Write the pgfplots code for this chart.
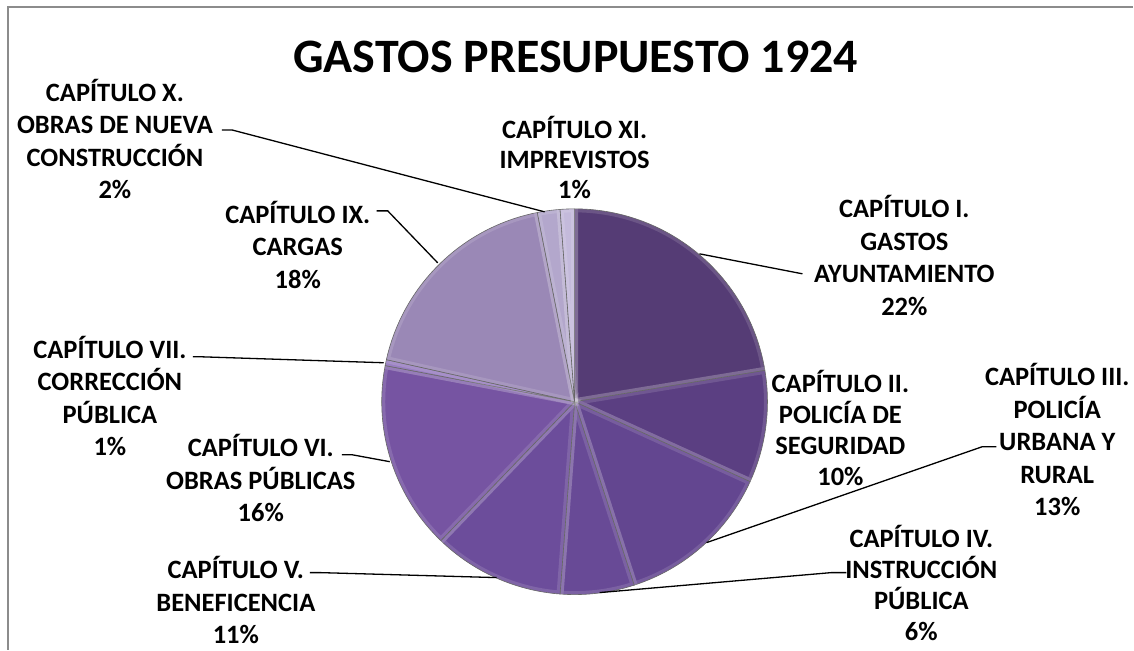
\documentclass[border=0pt]{standalone}
\usepackage{pgfplots}
\pgfplotsset{compat=1.18}
\usepackage{fontspec}
\setmainfont{Carlito}
\definecolor{cI}{HTML}{553C75}
\definecolor{cII}{HTML}{5B3F82}
\definecolor{cIII}{HTML}{634690}
\definecolor{cIV}{HTML}{684A96}
\definecolor{cV}{HTML}{6C4D9B}
\definecolor{cVI}{HTML}{7654A2}
\definecolor{cVII}{HTML}{8A6CB8}
\definecolor{cIX}{HTML}{9A88B6}
\definecolor{cX}{HTML}{B3A7CC}
\definecolor{cXI}{HTML}{C4BADB}
\definecolor{frame}{HTML}{8C8C8C}
\tikzset{lab/.style={align=center, font=\fontsize{26.5}{32.5}\selectfont\bfseries, inner sep=0pt}}
% shares (%): I 22.4, II 9.4, III 13.2, IV 6.2, V 11.0, VI 15.8, VII 0.5, IX 18.4, X 1.9, XI 1.2
% slice angles = cumulative share * 3.6, clockwise from 90 deg
\newcommand{\slice}[3]{%
  \addplot[fill=#1, draw=white, draw opacity=0.13, line width=7pt, domain=#3:#2, samples=80]
    ({575+193*cos(x)},{402-193*sin(x)}) -- (axis cs:575,402) -- cycle;
  \addplot[draw=black!60, line width=0.6pt, domain=#3:#2, samples=80]
    ({575+193*cos(x)},{402-193*sin(x)}) -- (axis cs:575,402) -- cycle;
}
\begin{document}
\begin{tikzpicture}
\begin{axis}[
  width=1134pt, height=650pt, scale only axis,
  xmin=0, xmax=1134, ymin=0, ymax=650, y dir=reverse,
  hide axis, clip=false,
]
\addplot[draw=none, forget plot] coordinates {(0,0) (1134,650)};
\slice{cI}{90}{9.36}
\slice{cII}{9.36}{-24.48}
\slice{cIII}{-24.48}{-72.0}
\slice{cIV}{-72.0}{-94.32}
\slice{cV}{-94.32}{-133.92}
\slice{cVI}{-133.92}{-190.8}
\slice{cVII}{-190.8}{-192.6}
\slice{cIX}{-192.6}{-258.84}
\slice{cX}{-258.84}{-265.68}
\slice{cXI}{-265.68}{-270}
% frame
\addplot[draw=frame, line width=1.6pt] coordinates {(8,650) (8,7) (1134,7)};
% leader lines
\addplot[draw=black, line width=1.3pt] coordinates {(222,130) (232,130) (545,212)};
\addplot[draw=black, line width=1.3pt] coordinates {(377,211) (388,211) (438,263)};
\addplot[draw=black, line width=1.3pt] coordinates {(700,254) (803,274)};
\addplot[draw=black, line width=1.3pt] coordinates {(707,543) (983,447) (997,447)};
\addplot[draw=black, line width=1.3pt] coordinates {(600,593) (832,573) (847,573)};
\addplot[draw=black, line width=1.3pt] coordinates {(310,573) (320,573) (497,578)};
\addplot[draw=black, line width=1.3pt] coordinates {(342,455) (352,455) (390,462)};
\addplot[draw=black, line width=1.3pt] coordinates {(193,357) (200,357) (384,363)};
% title
\node[lab, font=\fontsize{48}{54}\selectfont\bfseries] at (axis cs:576,57) {GASTOS PRESUPUESTO 1924};
% labels
\node[lab] at (axis cs:115,139) {CAPÍTULO X.\\OBRAS DE NUEVA\\CONSTRUCCIÓN\\2\%};
\node[lab] at (axis cs:298,245) {CAPÍTULO IX.\\CARGAS\\18\%};
\node[lab, font=\fontsize{26.5}{30}\selectfont\bfseries] at (axis cs:575,157.5) {CAPÍTULO XI.\\IMPREVISTOS\\1\%};
\node[lab] at (axis cs:905,255.5) {CAPÍTULO I.\\GASTOS\\AYUNTAMIENTO\\22\%};
\node[lab, font=\fontsize{26.5}{31}\selectfont\bfseries] at (axis cs:841,428) {CAPÍTULO II.\\POLICÍA DE\\SEGURIDAD\\10\%};
\node[lab] at (axis cs:1058,440) {CAPÍTULO III.\\POLICÍA\\URBANA Y\\RURAL\\13\%};
\node[lab, font=\fontsize{26.5}{31}\selectfont\bfseries] at (axis cs:922,583.5) {CAPÍTULO IV.\\INSTRUCCIÓN\\PÚBLICA\\6\%};
\node[lab] at (axis cs:236,600.5) {CAPÍTULO V.\\BENEFICENCIA\\11\%};
\node[lab] at (axis cs:261,478.5) {CAPÍTULO VI.\\OBRAS PÚBLICAS\\16\%};
\node[lab] at (axis cs:110,396.5) {CAPÍTULO VII.\\CORRECCIÓN\\PÚBLICA\\1\%};
\end{axis}
\end{tikzpicture}
\end{document}
